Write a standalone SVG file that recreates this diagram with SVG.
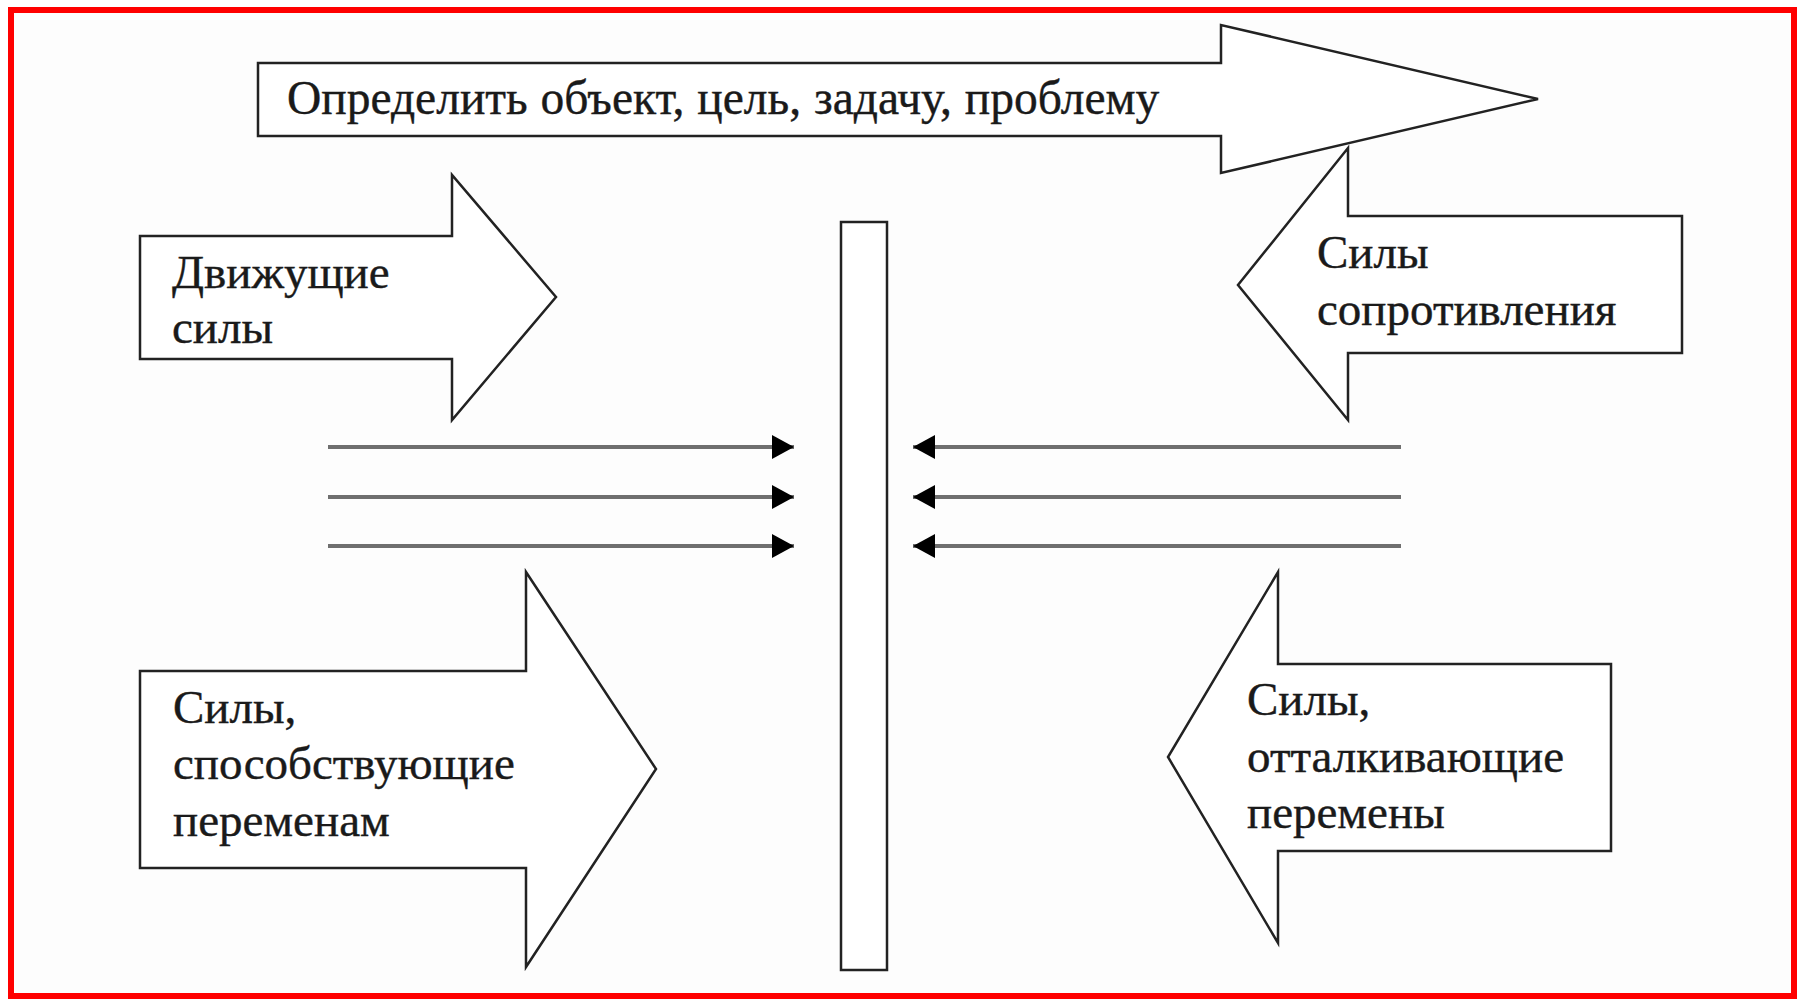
<svg xmlns="http://www.w3.org/2000/svg" width="1804" height="1003" viewBox="0 0 1804 1003">
<style>
.shape{fill:#ffffff;stroke:#222222;stroke-width:2.5;stroke-linejoin:miter}
.lbl{font-family:"Liberation Serif","Times New Roman",serif;font-size:47px;fill:#1a1a1a;stroke:#1a1a1a;stroke-width:0.4}
.conn{stroke:#6f6f6f;stroke-width:4;fill:none}
</style>
<defs>
<marker id="ah" markerUnits="userSpaceOnUse" markerWidth="24" markerHeight="26" refX="22" refY="12" orient="auto">
<path d="M0,0 L22,12 L0,24 Z" fill="#000000"/>
</marker>
</defs>
<rect x="0" y="0" width="1804" height="1003" fill="#ffffff"/>
<rect x="11" y="10" width="1783" height="986" fill="#fdfdfd" stroke="#ff0000" stroke-width="6"/>
<g id="center-bar">
<rect class="shape" x="841" y="222" width="46" height="748"/>
</g>
<g id="top-arrow">
<polygon class="shape" points="258,63 1221,63 1221,25 1538,99 1221,173 1221,136 258,136"/>
<text class="lbl" x="287" y="114" style="font-size:47.5px;word-spacing:1px">Определить объект, цель, задачу, проблему</text>
</g>
<g id="driving-forces">
<polygon class="shape" points="140,236 452,236 452,175 556,297 452,420 452,359 140,359"/>
<text class="lbl" x="172" y="288">Движущие</text>
<text class="lbl" x="172" y="343">силы</text>
</g>
<g id="resistance-forces">
<polygon class="shape" points="1682,216 1348,216 1348,148 1238,285 1348,420 1348,353 1682,353"/>
<text class="lbl" x="1317" y="268">Силы</text>
<text class="lbl" x="1317" y="325">сопротивления</text>
</g>
<g id="promoting-forces">
<polygon class="shape" points="140,671 526,671 526,572 656,769 526,967 526,868 140,868"/>
<text class="lbl" x="173" y="723">Силы,</text>
<text class="lbl" x="173" y="779">способствующие</text>
<text class="lbl" x="173" y="836">переменам</text>
</g>
<g id="repelling-forces">
<polygon class="shape" points="1611,664 1278,664 1278,572 1168,757 1278,943 1278,851 1611,851"/>
<text class="lbl" x="1247" y="715">Силы,</text>
<text class="lbl" x="1247" y="772">отталкивающие</text>
<text class="lbl" x="1247" y="828">перемены</text>
</g>
<g id="connectors">
<line class="conn" x1="328" y1="447" x2="794" y2="447" marker-end="url(#ah)"/>
<line class="conn" x1="328" y1="497" x2="794" y2="497" marker-end="url(#ah)"/>
<line class="conn" x1="328" y1="546" x2="794" y2="546" marker-end="url(#ah)"/>
<line class="conn" x1="1401" y1="447" x2="913" y2="447" marker-end="url(#ah)"/>
<line class="conn" x1="1401" y1="497" x2="913" y2="497" marker-end="url(#ah)"/>
<line class="conn" x1="1401" y1="546" x2="913" y2="546" marker-end="url(#ah)"/>
</g>
</svg>
